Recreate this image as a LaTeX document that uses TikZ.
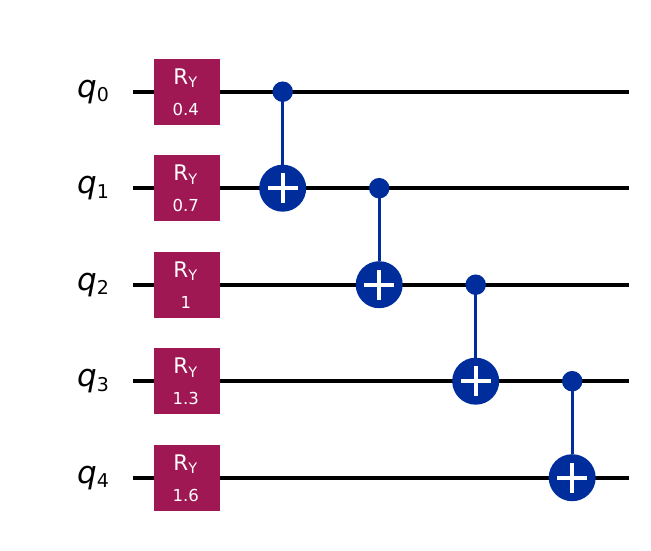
\documentclass[tikz,border=0pt]{standalone}
\usepackage{fontspec}
\setmainfont{DejaVu Sans}
\definecolor{rycol}{HTML}{9F1853}
\definecolor{cxcol}{HTML}{002D9C}
\begin{document}
\begin{tikzpicture}[x=1pt,y=-1pt,
  wire/.style={line width=3.9pt},
  rybox/.style={fill=rycol,minimum width=66pt,minimum height=66pt,inner sep=0pt},
  ctrl/.style={circle,fill=cxcol,minimum size=20.5pt,inner sep=0pt},
  targ/.style={circle,fill=cxcol,minimum size=47pt,inner sep=0pt},
  cxline/.style={draw=cxcol,line width=2.8pt},
  plus/.style={white,line width=4pt},
  qlab/.style={inner sep=0pt,anchor=base west},
  rtxt/.style={white,inner sep=0pt,anchor=base}]
\useasboundingbox (0,0) rectangle (651,551);
\foreach \i/\a in {0/0.4,1/0.7,2/1,3/1.3,4/1.6}{
  \pgfmathsetmacro{\yy}{91.7+96.5*\i}
  \coordinate (ws\i) at (133,\yy);
  \coordinate (we\i) at (629,\yy);
  \node[qlab] (q\i) at (77,\yy+5.3) {\fontsize{31}{36}\selectfont\itshape q\upshape\raisebox{-4.7pt}{\fontsize{19}{22}\selectfont\i}};
  \draw[wire] (ws\i) -- (we\i);
  \node[rybox] (r\i) at (187,\yy) {};
  \node[rtxt] (rt\i) at (185.3,\yy-7.4) {\fontsize{21.5}{24}\selectfont R\raisebox{-3.5pt}{\fontsize{14.5}{17}\selectfont Y}};
  \node[rtxt] (ra\i) at (185.8,\yy+23.3) {\fontsize{16.5}{19}\selectfont\a};
}
\foreach \i/\j/\x in {0/1/282.7,1/2/379.2,2/3/475.7,3/4/572.2}{
  \pgfmathsetmacro{\yc}{91.7+96.5*\i}
  \pgfmathsetmacro{\yt}{91.7+96.5*\j}
  \node[ctrl] (c\i) at (\x,\yc) {};
  \node[targ] (t\j) at (\x,\yt) {};
  \draw[cxline] (c\i.center) -- (t\j.north);
  \draw[plus] ([xshift=-15pt]t\j.center) -- ([xshift=15pt]t\j.center);
  \draw[plus] ([yshift=-15pt]t\j.center) -- ([yshift=15pt]t\j.center);
}
\end{tikzpicture}
\end{document}
